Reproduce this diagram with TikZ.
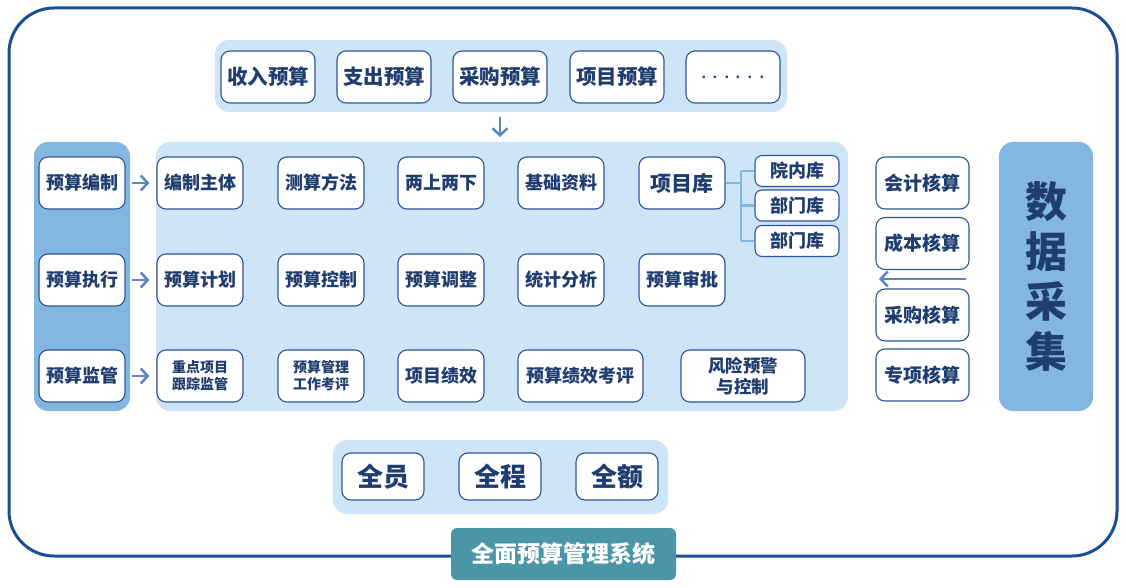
\documentclass[tikz,border=0pt]{standalone}
\usepackage{fontspec}
\setmainfont{Noto Sans CJK SC}
\usetikzlibrary{arrows.meta}
\definecolor{frame}{HTML}{1B4F93}
\definecolor{txt}{HTML}{1F3D6E}
\definecolor{bord}{HTML}{2F5597}
\definecolor{light}{HTML}{CDE5F7}
\definecolor{mid}{HTML}{84B6E2}
\definecolor{arr}{HTML}{5B86C0}
\definecolor{teal}{HTML}{4A96A8}
\tikzset{
  box/.style={draw=bord, line width=1.1pt, fill=white, rounded corners=9pt, text=txt, inner sep=0pt, align=center, font=\bfseries\fontsize{18}{21}\selectfont},
  link/.style={draw=arr, line width=2.5pt, -{Straight Barb[length=7pt,width=15pt]}},
}
\begin{document}
\begin{tikzpicture}[x=1pt,y=-1pt]
\useasboundingbox (0,0) rectangle (1126,588);
% outer frame
\draw[frame, line width=3pt, rounded corners=45pt] (9,8) rectangle (1117,556);
% bands
\fill[light, rounded corners=14pt] (215,40) rectangle (787,112);
\fill[light, rounded corners=14pt] (156,142) rectangle (848,411);
\fill[mid, rounded corners=14pt] (34,142) rectangle (130,411);
\fill[light, rounded corners=14pt] (333,440) rectangle (668,514);
% top row
\begin{scope}[every node/.style={box, minimum width=94pt, minimum height=52pt, font=\bfseries\fontsize{20.5}{24}\selectfont}]
\node (t1) at (268,77) {收入预算};
\node (t2) at (384,77) {支出预算};
\node (t3) at (500,77) {采购预算};
\node (t4) at (617,77) {项目预算};
\node[font=\fontsize{20}{24}\selectfont] (t5) at (733,77) {. . . . . .};
\end{scope}
% left column
\begin{scope}[every node/.style={box, minimum width=86pt, minimum height=52pt}]
\node (l1) at (82,183) {预算编制};
\node (l2) at (82,280) {预算执行};
\node (l3) at (82,376) {预算监管};
% rows
\node (a1) at (200,183) {编制主体};
\node (a2) at (321,183) {测算方法};
\node (a3) at (441,183) {两上两下};
\node (a4) at (561,183) {基础资料};
\node[font=\bfseries\fontsize{21}{24}\selectfont] (a5) at (682,183) {项目库};
\node (b1) at (200,280) {预算计划};
\node (b2) at (321,280) {预算控制};
\node (b3) at (441,280) {预算调整};
\node (b4) at (561,280) {统计分析};
\node (b5) at (682,280) {预算审批};
\node[font=\bfseries\fontsize{14}{17}\selectfont] (c1) at (200,376) {重点项目\\跟踪监管};
\node[font=\bfseries\fontsize{14}{17}\selectfont] (c2) at (321,376) {预算管理\\工作考评};
\node (c3) at (441,376) {项目绩效};
\node[minimum width=125pt] (c4) at (580.5,376) {预算绩效考评};
\node[minimum width=124pt, font=\bfseries\fontsize{17.5}{21}\selectfont] (c5) at (743,376) {风险预警\\与控制};
\end{scope}
% sub library boxes
\begin{scope}[every node/.style={box, minimum width=84pt, minimum height=31pt, rounded corners=7pt}]
\node (s1) at (797,171) {院内库};
\node (s2) at (797,205.5) {部门库};
\node (s3) at (797,241) {部门库};
\end{scope}
\coordinate (fork) at (741,183);
\draw[mid, line width=2.5pt] (a5.east) -- (fork);
\draw[mid, line width=2.5pt] (fork |- s1.west) -- (fork |- s3.west);
\draw[mid, line width=2.5pt] (fork |- s1.west) -- (s1.west);
\draw[mid, line width=2.5pt] (fork |- s2.west) -- (s2.west);
\draw[mid, line width=2.5pt] (fork |- s3.west) -- (s3.west);
% right boxes
\begin{scope}[every node/.style={box, minimum width=93pt, minimum height=52pt, font=\bfseries\fontsize{19}{22}\selectfont}]
\node (r1) at (922.5,183) {会计核算};
\node (r2) at (922.5,243.5) {成本核算};
\node (r3) at (922.5,315) {采购核算};
\node (r4) at (922.5,375) {专项核算};
\end{scope}
\node[fill=mid, rounded corners=14pt, minimum width=94pt, minimum height=269pt, inner sep=0pt, text=txt, align=center, font=\bfseries\fontsize{42}{50}\selectfont] (data) at (1046,276.5) {数\\据\\采\\集};
% bottom
\begin{scope}[every node/.style={box, minimum width=82pt, minimum height=47pt, font=\bfseries\fontsize{26}{30}\selectfont}]
\node (q1) at (383,476.5) {全员};
\node (q2) at (500,476.5) {全程};
\node (q3) at (617,476.5) {全额};
\end{scope}
\node[fill=teal, rounded corners=6pt, minimum width=225pt, minimum height=52pt, inner sep=0pt, text=white, font=\bfseries\fontsize{23}{26}\selectfont] (title) at (563.5,554) {全面预算管理系统};
% arrows
\coordinate (d1) at (500,117);
\coordinate (d2) at (500,137);
\draw[link] (d1) -- (d2);
\draw[link, shorten >=7pt] (l1.east) ++(6,0) -- (a1.west);
\draw[link, shorten >=7pt] (l2.east) ++(6,0) -- (b1.west);
\draw[link, shorten >=7pt] (l3.east) ++(6,0) -- (c1.west);
\coordinate (h1) at (966,279);
\coordinate (h2) at (879,279);
\draw[link] (h1) -- (h2);
\end{tikzpicture}
\end{document}
